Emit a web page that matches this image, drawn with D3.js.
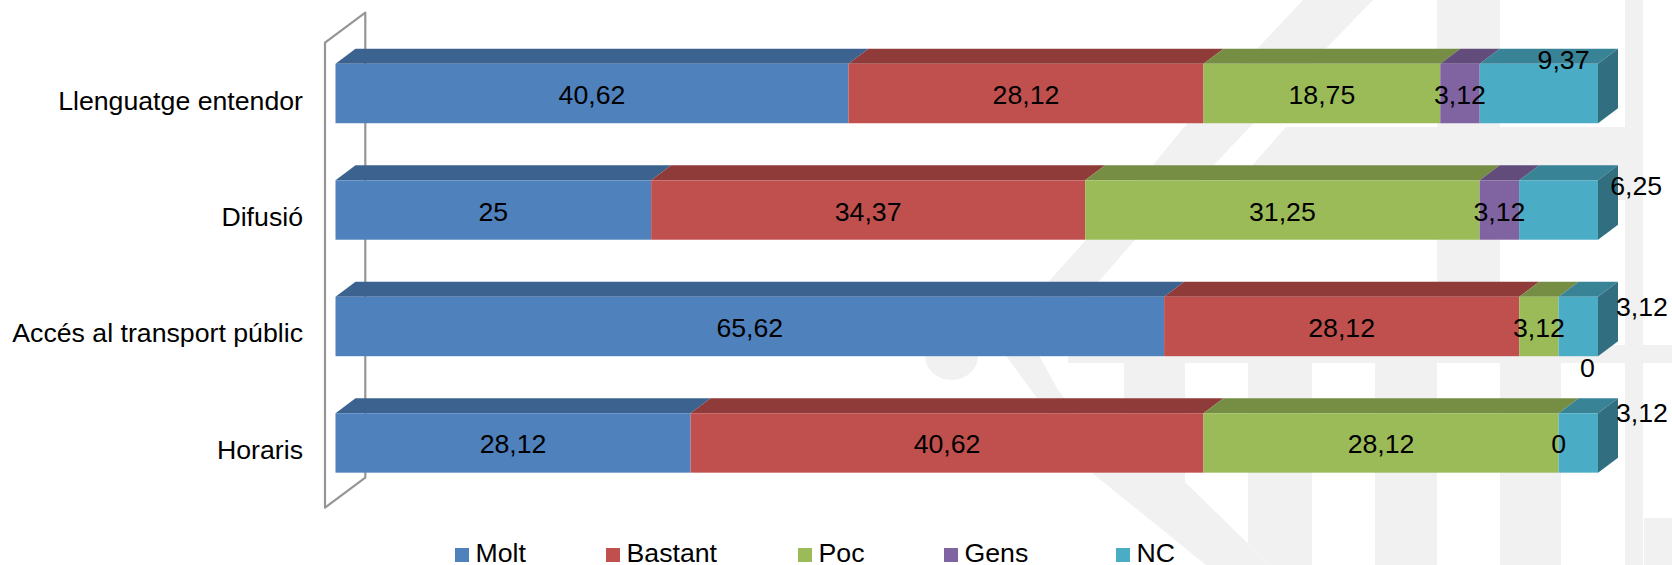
<!DOCTYPE html>
<html>
<head>
<meta charset="utf-8">
<script src="https://cdn.jsdelivr.net/npm/d3@7"></script>
<style>
html,body{margin:0;padding:0;background:#fff;overflow:hidden}
text{font-family:"Liberation Sans",Arial,sans-serif;font-size:26.7px;fill:#000}
</style>
</head>
<body>
<svg id="c" width="1672" height="565"></svg>
<script>
const categories = ["Llenguatge entendor","Difusió","Accés al transport públic","Horaris"];
const seriesNames = ["Molt","Bastant","Poc","Gens","NC"];
const molt    = [40.62,25,65.62,28.12];
const bastant = [28.12,34.37,28.12,40.62];
const poc     = [18.75,31.25,3.12,28.12];
const gens    = [3.12,3.12,0,0];
const nc      = [9.37,6.25,3.12,3.12];
const labelsText = v => String(v).replace(".",",");

const colors = ["#4F81BD","#C0504D","#9BBB59","#8064A2","#4BACC6"];
const topColors = ["#3C6290","#8F3B39","#768E44","#614C7B","#398397"];
const sideColor = "#316F80";
const legendX = [455,606,798,944,1116];
const depthX = 20, depthY = 15;
// manual label displacement, as placed in the original (row|series -> dx,dy)
const labelNudge = {"0|4":[24.7,-35.5],"1|4":[77.6,-26],"2|4":[63.7,-21],"2|3":[28.7,40.5],"3|4":[63.7,-31]};

const svg = d3.select("#c");

// pale background watermark
const wmRects = [[1437,0,63,345],[1625,0,18,565],[1068,345,604,18],[1375,363,62,202],[1500,363,61,202],[1644,518,28,47]];
const wmPolys = [
 [[1303,0],[1373,0],[1250,127],[1209,170],[1133,242],[1100,280],[1030,356],[980,356],[1050,280],[1149,170],[1184,127]],
 [[1286,127],[1625,127],[1625,200],[1222,200],[1250,168]],
 [[1000,350],[1036,350],[1058,390],[1124,473],[1124,363],[1185,363],[1185,482],[1270,565],[1206,565],[1092,473],[1031,390],[1007,357]],
 [[1248,363],[1312,363],[1312,565],[1270,565],[1248,543]]
];
const wm = svg.append("g").attr("fill","#f1f1f1");
wm.selectAll("rect").data(wmRects).join("rect")
  .attr("x",d=>d[0]).attr("y",d=>d[1]).attr("width",d=>d[2]).attr("height",d=>d[3]);
wm.selectAll("polygon").data(wmPolys).join("polygon").attr("points",d=>d.join(" "));
wm.append("ellipse").attr("cx",951.5).attr("cy",356).attr("rx",26.5).attr("ry",24);

const rows = categories.map((c,i)=>({cat:c,Molt:molt[i],Bastant:bastant[i],Poc:poc[i],Gens:gens[i],NC:nc[i]}));
const stacked = d3.stack().keys(seriesNames).offset(d3.stackOffsetExpand)(rows);

const x = d3.scaleLinear().domain([0,1]).range([335.5,1598]);
const y = d3.scaleBand().domain(categories).range([35.3,501.2]).paddingInner(0.49).paddingOuter(0.245);

// 3-D wall of the category axis
const wx0 = 325, wx1 = wx0+40.3;
const wallTop = y.range()[0]+7.4, wallBottom = y.range()[1]+6.5;
svg.append("path")
  .attr("d",`M${wx0},${wallTop}L${wx1},${wallTop-30}L${wx1},${wallBottom-30}L${wx0},${wallBottom}Z`)
  .attr("fill","none").attr("stroke","#969696").attr("stroke-width",2.2).attr("stroke-linejoin","round");

const bars = svg.append("g");
stacked.forEach((s,si)=>{
  const g = bars.append("g");
  const vis = s.map((d,i)=>({x0:d[0],x1:d[1],row:i})).filter(d=>d.x1>d.x0);
  g.selectAll("polygon.top").data(vis).join("polygon").attr("class","top")
    .attr("fill",topColors[si])
    .attr("points",d=>{const t=y(categories[d.row]),a=x(d.x0),b=x(d.x1);
      return [[a,t],[a+depthX,t-depthY],[b+depthX,t-depthY],[b,t]].join(" ");});
  g.selectAll("rect").data(vis).join("rect")
    .attr("fill",colors[si])
    .attr("x",d=>x(d.x0)).attr("width",d=>x(d.x1)-x(d.x0))
    .attr("y",d=>y(categories[d.row])).attr("height",y.bandwidth());
  if(si===stacked.length-1){
    g.selectAll("polygon.side").data(vis).join("polygon").attr("class","side")
      .attr("fill",sideColor)
      .attr("points",d=>{const t=y(categories[d.row]),b=x(d.x1),h=y.bandwidth();
        return [[b,t],[b+depthX,t-depthY],[b+depthX,t+h-depthY],[b,t+h]].join(" ");});
  }
});

// category axis
const ax = svg.append("g").attr("transform","translate(303,0)")
  .call(d3.axisLeft(y).tickSize(0).tickPadding(0));
ax.select(".domain").remove();
ax.selectAll("text").attr("dy",null).attr("y",16)
  .style("font-family",'"Liberation Sans",Arial,sans-serif').style("font-size","26.7px").attr("fill","#000");

// data labels
const labels = svg.append("g").attr("text-anchor","middle");
stacked.forEach((s,si)=>{
  labels.selectAll(null).data(s.map((d,i)=>({d,i}))).join("text")
    .attr("x",o=>{const n=labelNudge[o.i+"|"+si];return x((o.d[0]+o.d[1])/2)+(n?n[0]:0);})
    .attr("y",o=>{const n=labelNudge[o.i+"|"+si];return y(categories[o.i])+y.bandwidth()/2+10.5+(n?n[1]:0);})
    .text(o=>labelsText(o.d.data[seriesNames[si]]));
});

// legend
const lg = svg.append("g").selectAll("g").data(seriesNames).join("g")
  .attr("transform",(d,i)=>`translate(${legendX[i]},0)`);
lg.append("rect").attr("y",548).attr("width",14).attr("height",14).attr("fill",(d,i)=>colors[i]);
lg.append("text").attr("x",20.5).attr("y",562).text(d=>d);
</script>
</body>
</html>
